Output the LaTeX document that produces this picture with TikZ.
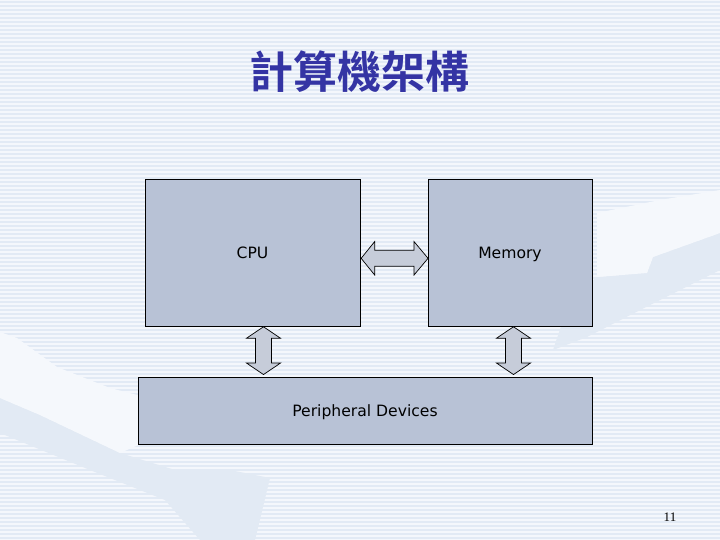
\documentclass[tikz,border=0pt]{standalone}
\usepackage{fontspec}
\setmainfont{DejaVu Sans}
\newfontfamily\cjkfont{Noto Sans CJK TC}[BoldFont={Noto Sans CJK TC Bold}]
\newfontfamily\numfont{Liberation Serif}
\usetikzlibrary{calc}
\definecolor{bglight}{HTML}{F4F7FC}
\definecolor{stripe}{HTML}{E2EAF5}
\definecolor{swooshlight}{HTML}{F5F8FC}
\definecolor{swooshdark}{HTML}{E2EAF4}
\definecolor{boxfill}{HTML}{B8C2D6}
\definecolor{arrowfill}{HTML}{C6CCD9}
\definecolor{titleblue}{HTML}{3434A4}
\tikzset{
  unitbox/.style={draw=black, line width=0.9pt, fill=boxfill, inner sep=0pt,
    text height=11.2pt, text depth=0pt,
    font=\fontsize{15.6}{18}\selectfont},
  fatarrow/.style={draw=black, line width=0.7pt, fill=arrowfill, line join=miter},
}
\begin{document}
\begin{tikzpicture}[x=1pt,y=-1pt]
\useasboundingbox (0,0) rectangle (720,540);
% background
\fill[bglight] (0,0) rectangle (720,540);
\foreach \yy in {0,4,...,536} \fill[stripe] (0,\yy+1) rectangle (720,\yy+3);
% left swoosh
\fill[swooshdark] (0,398) -- (40,415) -- (120,453) -- (175,470) -- (230,470) -- (270,478)
  -- (255,540) -- (200,540) -- (165,500) -- (90,470) -- (0,433) -- cycle;
\fill[swooshlight] (0,332) -- (17,338) -- (57,367) -- (110,388) -- (145,397) -- (150,440)
  -- (120,453) -- (40,415) -- (0,398) -- cycle;
% right swoosh
\fill[swooshdark] (720,233) -- (653,257) -- (647,273) -- (597,277) -- (570,300) -- (553,350)
  -- (587,337) -- (660,300) -- (720,270) -- cycle;
\fill[swooshlight] (720,190) -- (660,200) -- (597,213) -- (597,277) -- (647,273) -- (653,257)
  -- (720,233) -- cycle;
% title
\node[text=titleblue, font=\cjkfont\bfseries\fontsize{44}{48}\selectfont, inner sep=0pt]
  (title) at (359,72) {計算機架構};
% boxes
\node[unitbox, minimum width=215pt, minimum height=147pt] (cpu) at (252.5,252.5) {CPU};
\node[unitbox, minimum width=164pt, minimum height=147pt] (mem) at (510,252.5) {Memory};
\node[unitbox, minimum width=454pt, minimum height=67pt] (per) at (365,410.5) {Peripheral Devices};
% horizontal double arrow cpu <-> memory
\coordinate (hA) at ($(cpu.east)+(0.7,5.8)$);
\coordinate (hB) at ($(mem.west)+(0.5,5.8)$);
\draw[fatarrow] (hA) -- ($(hA)+(13.5,-16.7)$) -- ($(hA)+(13.5,-8)$) -- ($(hB)+(-14,-8)$)
  -- ($(hB)+(-14,-16.7)$) -- (hB) -- ($(hB)+(-14,16.7)$) -- ($(hB)+(-14,8)$)
  -- ($(hA)+(13.5,8)$) -- ($(hA)+(13.5,16.7)$) -- cycle;
% vertical double arrow cpu <-> peripheral
\coordinate (vA) at ($(cpu.south)+(11,0.3)$);
\coordinate (vB) at ($(cpu.south |- per.north)+(11,-2)$);
\draw[fatarrow] (vA) -- ($(vA)+(-17,11.5)$) -- ($(vA)+(-8,11.5)$) -- ($(vB)+(-8,-11.5)$)
  -- ($(vB)+(-17,-11.5)$) -- (vB) -- ($(vB)+(17,-11.5)$) -- ($(vB)+(8,-11.5)$)
  -- ($(vA)+(8,11.5)$) -- ($(vA)+(17,11.5)$) -- cycle;
% vertical double arrow memory <-> peripheral
\coordinate (wA) at ($(mem.south)+(3.5,0.3)$);
\coordinate (wB) at ($(mem.south |- per.north)+(3.5,-2)$);
\draw[fatarrow] (wA) -- ($(wA)+(-17,11.5)$) -- ($(wA)+(-8,11.5)$) -- ($(wB)+(-8,-11.5)$)
  -- ($(wB)+(-17,-11.5)$) -- (wB) -- ($(wB)+(17,-11.5)$) -- ($(wB)+(8,-11.5)$)
  -- ($(wA)+(8,11.5)$) -- ($(wA)+(17,11.5)$) -- cycle;
% page number
\node[font=\numfont\fontsize{13}{15}\selectfont, inner sep=0pt] (pnum) at (670,517) {11};
\end{tikzpicture}
\end{document}
